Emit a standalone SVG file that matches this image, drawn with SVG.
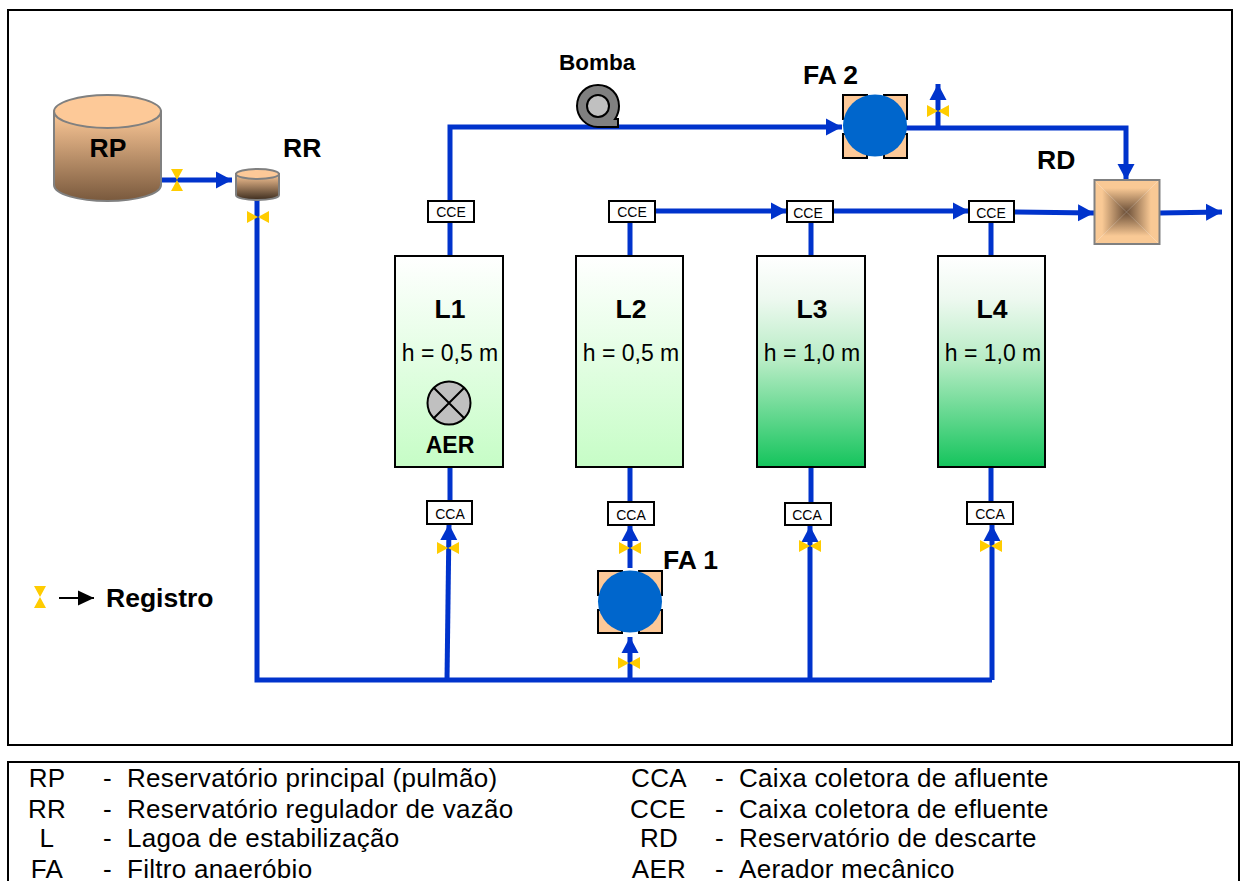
<svg xmlns="http://www.w3.org/2000/svg" width="1241" height="881" viewBox="0 0 1241 881">
<style>
text{font-family:"Liberation Sans",Arial,sans-serif;fill:#000}
.b{font-weight:bold}
.lbl{font-weight:bold;font-size:26.500px}
.lm{font-weight:bold;font-size:26.500px;text-anchor:middle}
.h{font-size:23px;text-anchor:middle}
.box{fill:#fff;stroke:#000;stroke-width:2}
.bt{font-size:14px;text-anchor:middle}
.pipe{fill:none;stroke:#0033cc;stroke-width:5}
.a{marker-end:url(#ah)}
.lag{stroke:#000;stroke-width:2}
.fsq{fill:#fdc998;stroke:#000;stroke-width:2}
.leg{font-size:26px;letter-spacing:.3px}
.legc{font-size:26px;letter-spacing:.3px;text-anchor:middle}
.cyl{stroke:#808080;stroke-width:2}
</style>
<defs>
<marker id="ah" markerUnits="userSpaceOnUse" markerWidth="18" markerHeight="18" refX="16" refY="9" orient="auto"><path d="M0 0.500L16 9L0 17.500Z" fill="#0033cc"/></marker>
<marker id="ak" markerUnits="userSpaceOnUse" markerWidth="18" markerHeight="18" refX="16" refY="9" orient="auto"><path d="M0 1.500L16 9L0 16.500Z" fill="#000"/></marker>
<linearGradient id="g1" x1="0" y1="0" x2="0" y2="1"><stop offset="0" stop-color="#fff"/><stop offset="1" stop-color="#c6fdc6"/></linearGradient>
<linearGradient id="g2" x1="0" y1="0" x2="0" y2="1"><stop offset="0" stop-color="#fff"/><stop offset="0.2" stop-color="#eef9f0"/><stop offset="0.5" stop-color="#b6ecc4"/><stop offset="1" stop-color="#14c45c"/></linearGradient>
<linearGradient id="cy" x1="0" y1="0" x2="0" y2="1"><stop offset="0" stop-color="#fdc998"/><stop offset="1" stop-color="#79593d"/></linearGradient>
<linearGradient id="cy2" x1="0" y1="0" x2="0" y2="1"><stop offset="0" stop-color="#fdc998"/><stop offset="1" stop-color="#3c2c1e"/></linearGradient>
<linearGradient id="pt" x1="0" y1="0" x2="0" y2="1"><stop offset="0" stop-color="#f9c995"/><stop offset="0.25" stop-color="#f9c995"/><stop offset="1" stop-color="#6b4f38"/></linearGradient>
<linearGradient id="pb" x1="0" y1="1" x2="0" y2="0"><stop offset="0" stop-color="#f9c995"/><stop offset="0.25" stop-color="#f9c995"/><stop offset="1" stop-color="#6b4f38"/></linearGradient>
<linearGradient id="pl" x1="0" y1="0" x2="1" y2="0"><stop offset="0" stop-color="#f9c995"/><stop offset="0.25" stop-color="#f9c995"/><stop offset="1" stop-color="#6b4f38"/></linearGradient>
<linearGradient id="pr" x1="1" y1="0" x2="0" y2="0"><stop offset="0" stop-color="#f9c995"/><stop offset="0.25" stop-color="#f9c995"/><stop offset="1" stop-color="#6b4f38"/></linearGradient>
<path id="vh" d="M-11 -6L0 0L-11 6ZM11 -6L0 0L11 6Z" fill="#ffcc00"/>
<path id="vv" d="M-6 -11L0 0L6 -11ZM-6 11L0 0L6 11Z" fill="#ffcc00"/>
</defs>
<rect width="1241" height="881" fill="#fff"/>
<rect id="frame" x="8" y="10" width="1224" height="735" fill="none" stroke="#000" stroke-width="2"/>
<rect id="legend-frame" x="8" y="762" width="1231" height="130" fill="none" stroke="#000" stroke-width="2"/>

<g id="connectors">
<path class="pipe a" d="M161 180H232"/>
<path class="pipe" d="M257 199L257 680H992"/>
<path class="pipe a" d="M447 680L449 524"/>
<path class="pipe a" d="M630 680V637"/>
<path class="pipe a" d="M630 568V525"/>
<path class="pipe a" d="M810 680V526"/>
<path class="pipe a" d="M992 680V525"/>
<path class="pipe" d="M450 467V501M630 467V502M811 467V503M991 467V502"/>
<path class="pipe" d="M450 256V222M630 256V222M811 256V222M991 256V222"/>
<path class="pipe a" d="M450 201V127H842"/>
<path class="pipe a" d="M905 128H1126V180"/>
<path class="pipe a" d="M938 128V84"/>
<path class="pipe a" d="M655 211H787"/>
<path class="pipe a" d="M833 211H969"/>
<path class="pipe a" d="M1014 212L1094 213"/>
<path class="pipe a" d="M1159 213L1222 212"/>
</g>

<g id="RP">
<path class="cyl" d="M54 111.500V185C54 194 78 201 107.500 201S161 194 161 185V111.500Z" fill="url(#cy)"/>
<ellipse class="cyl" cx="107.500" cy="111.500" rx="53.500" ry="16.500" fill="#fdc998"/>
<text class="lm" x="108" y="157">RP</text>
</g>
<g id="RR">
<path class="cyl" d="M236 174V195C236 198 246 200 257.500 200S279 198 279 195V174Z" fill="url(#cy2)"/>
<ellipse class="cyl" cx="257.500" cy="174" rx="21.500" ry="5" fill="#fdc998"/>
<text class="lbl" x="283" y="157">RR</text>
</g>
<g id="valves">
<use href="#vv" x="177" y="180"/>
<use href="#vh" x="258" y="217"/>
<use href="#vh" x="938" y="111"/>
<use href="#vh" x="448" y="548"/>
<use href="#vh" x="630" y="548"/>
<use href="#vh" x="810" y="546"/>
<use href="#vh" x="991" y="546"/>
<use href="#vh" x="629" y="663"/>
</g>
<g id="bomba">
<path d="M598 85C610 85 619 94 619 106C619 112 617 116 615 119H618V127H598C586 127 577 117 577 106C577 94 586 85 598 85Z" fill="#808080" stroke="#000" stroke-width="2"/>
<circle cx="598" cy="106" r="11" fill="#c0c0c0" stroke="#000" stroke-width="2"/>
<text class="b" x="559" y="70" font-size="22.500">Bomba</text>
</g>
<g id="FA2">
<rect class="fsq" x="843" y="95" width="24" height="24"/><rect class="fsq" x="884" y="95" width="23" height="24"/>
<rect class="fsq" x="843" y="134" width="24" height="24"/><rect class="fsq" x="884" y="134" width="23" height="24"/>
<ellipse cx="875" cy="125.500" rx="32" ry="31" fill="#0066cc"/>
<text class="lbl" x="803" y="84">FA 2</text>
</g>
<g id="FA1">
<rect class="fsq" x="598" y="571" width="24" height="24"/><rect class="fsq" x="639" y="571" width="23" height="24"/>
<rect class="fsq" x="598" y="610" width="24" height="23"/><rect class="fsq" x="639" y="610" width="23" height="23"/>
<ellipse cx="630" cy="601.500" rx="32" ry="31" fill="#0066cc"/>
<text class="lbl" x="663" y="569">FA 1</text>
</g>
<g id="RD">
<polygon points="1094,180 1159,180 1126.500,212" fill="url(#pt)"/>
<polygon points="1094,244 1159,244 1126.500,212" fill="url(#pb)"/>
<polygon points="1094,180 1094,244 1126.500,212" fill="url(#pl)"/>
<polygon points="1159,180 1159,244 1126.500,212" fill="url(#pr)"/>
<rect x="1094.500" y="180" width="65" height="64" fill="none" stroke="#808080" stroke-width="2"/>
<text class="lbl" x="1037" y="169">RD</text>
</g>
<g id="L1">
<rect class="lag" x="395" y="256" width="108" height="211" fill="url(#g1)"/>
<text class="lm" x="450" y="318">L1</text><text class="h" x="450" y="361">h = 0,5 m</text>
<circle cx="449" cy="403" r="21.500" fill="#c0c0c0" stroke="#000" stroke-width="2"/>
<path d="M434 388L464 418M464 388L434 418" stroke="#000" stroke-width="2"/>
<text class="b" x="450" y="453" font-size="23" text-anchor="middle">AER</text>
</g>
<g id="L2">
<rect class="lag" x="576" y="256" width="107" height="211" fill="url(#g1)"/>
<text class="lm" x="631" y="318">L2</text><text class="h" x="631" y="361">h = 0,5 m</text>
</g>
<g id="L3">
<rect class="lag" x="757" y="256" width="108" height="211" fill="url(#g2)"/>
<text class="lm" x="812" y="318">L3</text><text class="h" x="812" y="361">h = 1,0 m</text>
</g>
<g id="L4">
<rect class="lag" x="938" y="256" width="107" height="211" fill="url(#g2)"/>
<text class="lm" x="992" y="318">L4</text><text class="h" x="993" y="361">h = 1,0 m</text>
</g>
<g id="CCE1"><rect class="box" x="428" y="201" width="46" height="21"/><text class="bt" x="451" y="217">CCE</text></g>
<g id="CCE2"><rect class="box" x="609" y="201" width="46" height="21"/><text class="bt" x="632" y="217">CCE</text></g>
<g id="CCE3"><rect class="box" x="787" y="201" width="46" height="21"/><text class="bt" x="808" y="218">CCE</text></g>
<g id="CCE4"><rect class="box" x="969" y="201" width="45" height="21"/><text class="bt" x="991" y="218">CCE</text></g>
<g id="CCA1"><rect class="box" x="427" y="501" width="45" height="23"/><text class="bt" x="450" y="519">CCA</text></g>
<g id="CCA2"><rect class="box" x="608" y="502" width="46" height="23"/><text class="bt" x="631" y="520">CCA</text></g>
<g id="CCA3"><rect class="box" x="785" y="503" width="46" height="22"/><text class="bt" x="807" y="520">CCA</text></g>
<g id="CCA4"><rect class="box" x="967" y="502" width="46" height="22"/><text class="bt" x="990" y="519">CCA</text></g>
<g id="registro">
<use href="#vv" x="40" y="597"/>
<path d="M59 598H94" stroke="#000" stroke-width="2" fill="none" marker-end="url(#ak)"/>
<text class="lbl" x="106" y="607">Registro</text>
</g>
<g id="legend">
<text class="legc" x="47" y="787">RP</text><text class="leg" x="103" y="787">-</text><text class="leg" x="127" y="787">Reservatório principal (pulmão)</text>
<text class="legc" x="47" y="818">RR</text><text class="leg" x="103" y="818">-</text><text class="leg" x="127" y="818">Reservatório regulador de vazão</text>
<text class="legc" x="47" y="847">L</text><text class="leg" x="103" y="847">-</text><text class="leg" x="127" y="847">Lagoa de estabilização</text>
<text class="legc" x="47" y="878">FA</text><text class="leg" x="103" y="878">-</text><text class="leg" x="127" y="878">Filtro anaeróbio</text>
<text class="legc" x="659" y="787">CCA</text><text class="leg" x="715" y="787">-</text><text class="leg" x="739" y="787">Caixa coletora de afluente</text>
<text class="legc" x="658" y="818">CCE</text><text class="leg" x="715" y="818">-</text><text class="leg" x="739" y="818">Caixa coletora de efluente</text>
<text class="legc" x="659" y="847">RD</text><text class="leg" x="715" y="847">-</text><text class="leg" x="739" y="847">Reservatório de descarte</text>
<text class="legc" x="659" y="878">AER</text><text class="leg" x="715" y="878">-</text><text class="leg" x="739" y="878">Aerador mecânico</text>
</g>
</svg>
